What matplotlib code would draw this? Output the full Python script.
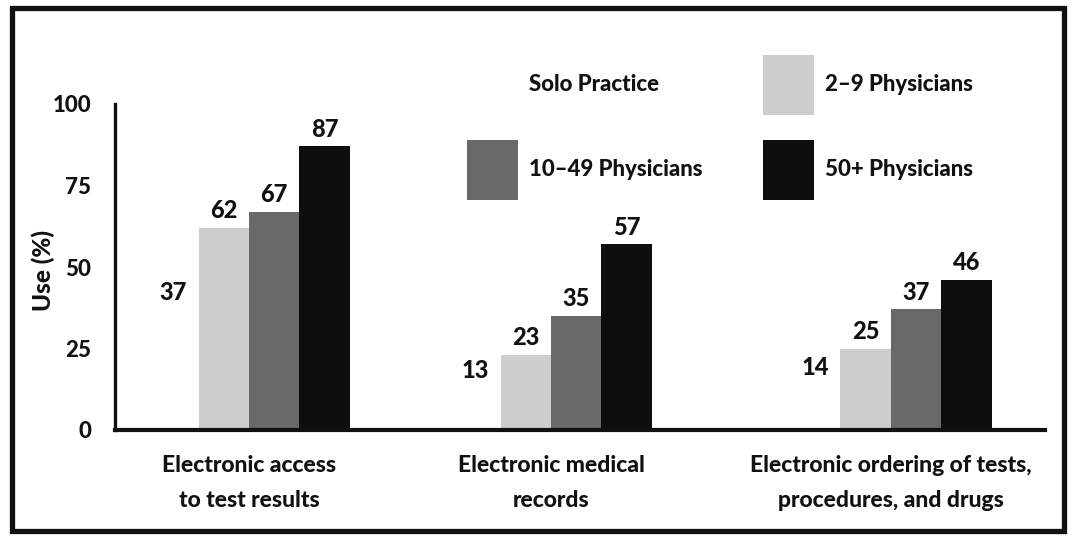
import numpy as np
import matplotlib
matplotlib.use("Agg")
import matplotlib.pyplot as plt
from matplotlib.patches import Rectangle, Patch

# Share of practices using each electronic capability, by practice size
categories = ["Electronic access\nto test results",
              "Electronic medical\nrecords",
              "Electronic ordering of tests,\nprocedures, and drugs"]
series_names = ["Solo Practice", "2\u20139 Physicians", "10\u201349 Physicians", "50+ Physicians"]
solo = [37, 13, 14]
small = [62, 23, 25]
medium = [67, 35, 37]
large = [87, 57, 46]
y_ticks = [0, 25, 50, 75, 100]

series_values = [solo, small, medium, large]
colors = ["#ffffff", "#cdcdcd", "#696969", "#0e0e0e"]

plt.rcParams["font.family"] = ["Lato", "DejaVu Sans"]
WT = "black"
INK = "#111111"

W, H = 1071, 536
fig = plt.figure(figsize=(W / 100, H / 100), dpi=100)
fig.patch.set_facecolor("white")

# axes placed in pixel terms
ax_l, ax_r, ax_t, ax_b = 115, 1045, 104, 430
ax = fig.add_axes([ax_l / W, 1 - ax_b / H, (ax_r - ax_l) / W, (ax_b - ax_t) / H])

group_pos = np.array([0.0, 1.0, 2.125])
bar_w = 0.167
offsets = (np.arange(4) - 1.5) * bar_w

for vals, off, col in zip(series_values, offsets, colors):
    x = group_pos + off
    ax.bar(x, vals, width=bar_w, color=col, edgecolor="none", zorder=2)
    for xi, v in zip(x, vals):
        ax.annotate(f"{v}", (xi, v), xytext=(0, 4), textcoords="offset points",
                    ha="center", va="bottom", fontsize=17, fontweight=WT,
                    color=INK)

ax.set_xlim(-0.4437, 2.636)
ax.set_ylim(0, 100)
ax.set_yticks(y_ticks)
ax.set_yticklabels([str(t) for t in y_ticks], fontweight=WT)
ax.tick_params(axis="y", length=0, pad=17, labelsize=16, labelcolor=INK)
ax.set_xticks(group_pos)
ax.set_xticklabels(categories, fontsize=16.5, fontweight=WT, linespacing=1.8,
                   color=INK)
ax.tick_params(axis="x", length=0, pad=18)

for s in ["top", "right"]:
    ax.spines[s].set_visible(False)
ax.spines["left"].set_linewidth(2.4)
ax.spines["bottom"].set_linewidth(3.0)
ax.spines["left"].set_color(INK)
ax.spines["bottom"].set_color(INK)

ax.set_ylabel("Use (%)", fontsize=17.5, fontweight=WT, color=INK)
ax.yaxis.set_label_coords(-0.065, 0.49)

# legend in two rows: Solo / 2-9 on top, 10-49 / 50+ below
handles = [Patch(facecolor=c, edgecolor="none") for c in colors]
order = [0, 2, 1, 3]
leg = ax.legend([handles[i] for i in order], [series_names[i] for i in order],
                ncol=2, frameon=False, fontsize=16,
                handlelength=2.3, handleheight=3.8, handletextpad=0.5,
                labelspacing=1.1, columnspacing=2.7,
                borderpad=0, borderaxespad=0,
                loc="upper left", bbox_to_anchor=(467 / W, 1 - 55 / H),
                bbox_transform=fig.transFigure)
for t in leg.get_texts():
    t.set_fontweight(WT)
    t.set_color(INK)

# outer frame
fig.patches.append(Rectangle((12 / W, 1 - 531 / H), (1064 - 12) / W, (531 - 8) / H,
                             transform=fig.transFigure, fill=False,
                             edgecolor=INK, linewidth=3.8))

fig.savefig("out.png", dpi=100, facecolor="white")
